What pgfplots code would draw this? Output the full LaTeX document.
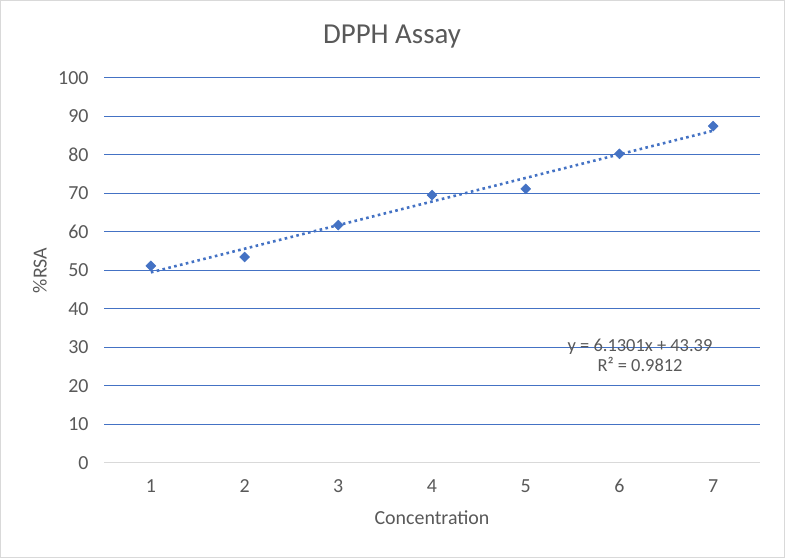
\documentclass[border=0pt]{standalone}
\usepackage{pgfplots}
\pgfplotsset{compat=1.18}
\usepackage{fontspec}
\setmainfont{Carlito}
\definecolor{xlblue}{HTML}{4472C4}
\definecolor{xltext}{HTML}{595959}
\definecolor{xlgray}{HTML}{D9D9D9}
\begin{document}
\begin{tikzpicture}[x=1bp,y=1bp]
\useasboundingbox (0,0) rectangle (785,558);
\fill[white] (0,0) rectangle (785,558);
\draw[xlgray, line width=1.2bp] (0.6,0.6) rectangle (784.4,557.4);
\node[text=xltext, font=\fontsize{29}{32}\selectfont] at (392,521) {DPPH Assay};
\begin{axis}[
  at={(104bp,95bp)}, anchor=south west,
  scale only axis, width=656bp, height=385bp,
  xmin=0.5, xmax=7.5, ymin=0, ymax=100,
  xtick={1,2,3,4,5,6,7}, ytick={0,10,...,100},
  axis x line*=bottom, axis y line*=left,
  y axis line style={draw=none},
  x axis line style={draw=xlgray, line width=1bp, -},
  ymajorgrids, grid style={draw=xlblue, line width=1bp},
  major tick length=0pt,
  tick label style={text=xltext, font=\fontsize{20}{24}\selectfont},
  /pgf/number format/assume math mode=true,
  yticklabel style={xshift=-12bp},
  xticklabel style={yshift=-13bp},
  xlabel={Concentration}, ylabel={\%RSA},
  every axis x label/.style={at={(axis description cs:0.5,-0.143)}, anchor=center, text=xltext, font=\fontsize{20}{24}\selectfont},
  every axis y label/.style={at={(axis description cs:-0.0976,0.5)}, rotate=90, anchor=center, text=xltext, font=\fontsize{20}{24}\selectfont},
  clip=false,
]
% dotted linear trendline y = 6.1301x + 43.39 (endpoints)
\addplot[xlblue, line width=2.6bp, dash pattern=on 2.6bp off 3.4bp, forget plot] coordinates {(1,49.52) (7,86.30)};
\addplot[only marks, mark=diamond*, mark size=5bp, mark options={xscale=1.33, fill=xlblue, draw=xlblue}] coordinates {
(1,51.2) (2,53.5) (3,61.8) (4,69.6) (5,71.2) (6,80.3) (7,87.5)
};
\node[text=xltext, font=\fontsize{18.5}{22}\selectfont, align=center] at (axis cs:6.22,27.9) {y = 6.1301x + 43.39\\[-2pt] R² = 0.9812};
\end{axis}
\end{tikzpicture}
\end{document}
